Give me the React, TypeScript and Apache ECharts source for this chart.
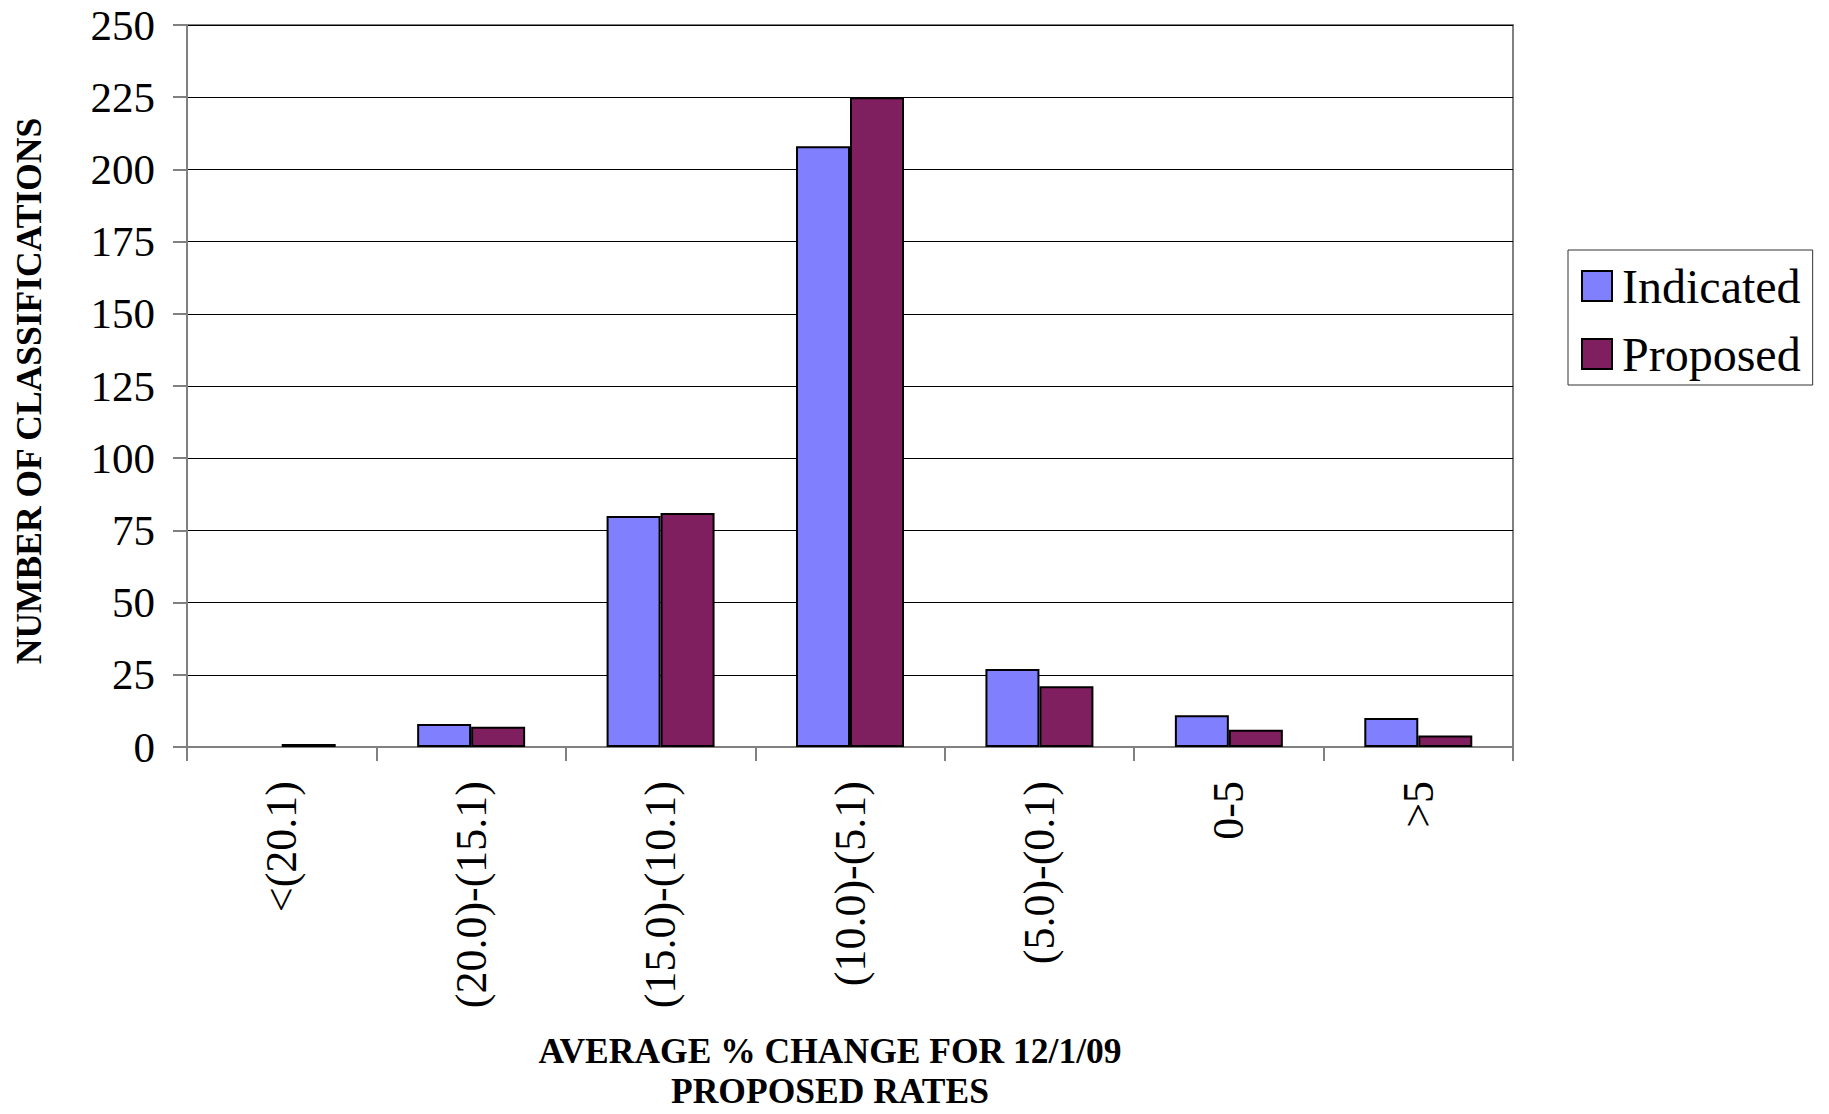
import React, { useEffect, useRef } from "react";
import * as echarts from "echarts";

const categories = ["<(20.1)", "(20.0)-(15.1)", "(15.0)-(10.1)", "(10.0)-(5.1)", "(5.0)-(0.1)", "0-5", ">5"];
const indicated = [0, 8, 80, 208, 27, 11, 10];
const proposed = [1, 7, 81, 225, 21, 6, 4];
const seriesNames = ["Indicated", "Proposed"];
const yMin = 0;
const yMax = 250;
const yInterval = 25;
const yTitle = "NUMBER OF CLASSIFICATIONS";
const xTitle = "AVERAGE % CHANGE FOR 12/1/09\nPROPOSED RATES";

const FONT = "'Liberation Serif', 'Times New Roman', serif";

// zero-valued bars are not drawn with an outline in the original
const toBarData = (arr: number[]) =>
  arr.map((v) => (v === 0 ? { value: v, itemStyle: { borderWidth: 0 } } : v));

export default function App() {
  const ref = useRef<HTMLDivElement>(null);
  useEffect(() => {
    document.body.style.margin = "0";
    const chart = echarts.init(ref.current!, undefined, { renderer: "svg" });
    chart.setOption({
      animation: false,
      backgroundColor: "#ffffff",
      textStyle: { fontFamily: FONT, color: "#000" },
      grid: {
        left: 187,
        top: 25,
        width: 1326,
        height: 722,
        show: true,
        borderColor: "#808080",
        borderWidth: 2,
        backgroundColor: "transparent",
      },
      legend: {
        orient: "vertical",
        left: 1568,
        top: 250,
        padding: [12, 12, 7, 13],
        itemGap: 20,
        itemWidth: 30,
        itemHeight: 30,
        icon: "rect",
        backgroundColor: "#fff",
        borderColor: "#333",
        borderWidth: 1,
        borderRadius: 0,
        data: seriesNames,
        itemStyle: { borderColor: "#000", borderWidth: 2 },
        textStyle: {
          fontFamily: FONT,
          fontSize: 48,
          color: "#000",
          padding: [0, 0, 0, 5],
        },
      },
      xAxis: {
        type: "category",
        data: categories,
        boundaryGap: true,
        axisLine: { show: true, lineStyle: { color: "#808080", width: 2 } },
        axisTick: { show: true, inside: false, length: 14, alignWithLabel: false, lineStyle: { color: "#808080", width: 2 } },
        axisLabel: {
          rotate: 90,
          margin: 34,
          fontFamily: FONT,
          fontSize: 44,
          color: "#000",
          interval: 0,
        },
        splitLine: { show: false },
      },
      yAxis: {
        type: "value",
        min: yMin,
        max: yMax,
        interval: yInterval,
        axisLine: { show: true, lineStyle: { color: "#808080", width: 2 } },
        axisTick: { show: true, inside: false, length: 14, lineStyle: { color: "#808080", width: 2 } },
        axisLabel: {
          margin: 32,
          fontFamily: FONT,
          fontSize: 43,
          color: "#000",
        },
        splitLine: { show: true, lineStyle: { color: "#000", width: 1 } },
      },
      series: [
        {
          name: seriesNames[0],
          type: "bar",
          data: toBarData(indicated),
          barGap: "0%",
          barCategoryGap: "43%",
          itemStyle: { color: "#8080ff", borderColor: "#000", borderWidth: 2 },
        },
        {
          name: seriesNames[1],
          type: "bar",
          data: toBarData(proposed),
          barGap: "0%",
          barCategoryGap: "43%",
          itemStyle: { color: "#7f1f5f", borderColor: "#000", borderWidth: 2 },
        },
      ],
      graphic: [
        {
          type: "text",
          x: 29,
          y: 391,
          rotation: Math.PI / 2,
          style: {
            text: yTitle,
            fontFamily: FONT,
            fontSize: 35.5,
            fontWeight: "bold",
            fill: "#000",
            align: "center",
            verticalAlign: "middle",
          },
        },
        {
          type: "text",
          x: 830,
          y: 1031,
          style: {
            text: xTitle,
            fontFamily: FONT,
            fontSize: 35.5,
            fontWeight: "bold",
            lineHeight: 40,
            fill: "#000",
            align: "center",
            verticalAlign: "top",
          },
        },
      ],
    });
    return () => chart.dispose();
  }, []);
  return <div ref={ref} style={{ width: 1829, height: 1114 }} />;
}
